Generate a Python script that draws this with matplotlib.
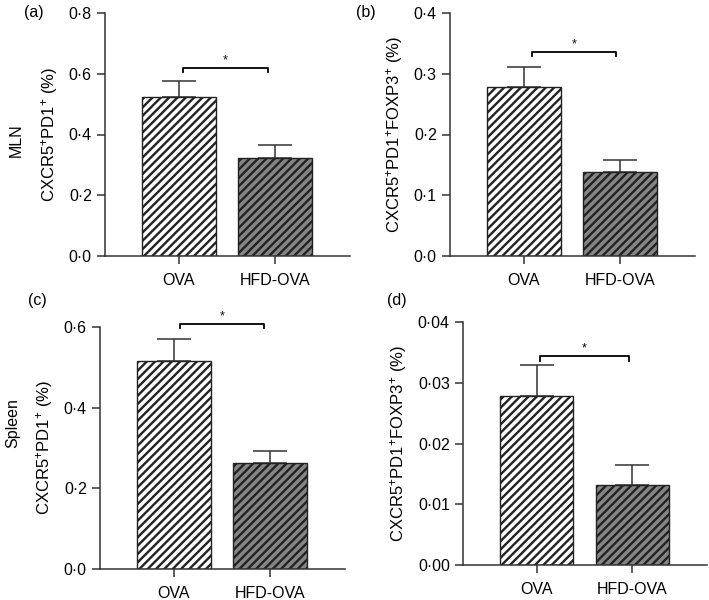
import matplotlib
matplotlib.use("Agg")
import matplotlib.pyplot as plt

plt.rcParams['font.family'] = ['Liberation Sans', 'DejaVu Sans']
plt.rcParams['mathtext.fontset'] = 'custom'
plt.rcParams['mathtext.rm'] = 'Liberation Sans'
plt.rcParams['mathtext.default'] = 'regular'
plt.rcParams['hatch.linewidth'] = 1.7
plt.rcParams['hatch.color'] = 'black'

categories = ["OVA", "HFD-OVA"]

# panel values (mean, upper error)
a_vals = [0.523, 0.323]
a_err = [0.054, 0.043]
b_vals = [0.278, 0.138]
b_err = [0.033, 0.020]
c_vals = [0.516, 0.263]
c_err = [0.054, 0.030]
d_vals = [0.0279, 0.0132]
d_err = [0.0050, 0.0033]

a_ticks = [0.0, 0.2, 0.4, 0.6, 0.8]
b_ticks = [0.0, 0.1, 0.2, 0.3, 0.4]
c_ticks = [0.0, 0.2, 0.4, 0.6]
d_ticks = [0.0, 0.01, 0.02, 0.03, 0.04]

a_tlabels = ["0·0", "0·2", "0·4", "0·6", "0·8"]
b_tlabels = ["0·0", "0·1", "0·2", "0·3", "0·4"]
c_tlabels = ["0·0", "0·2", "0·4", "0·6"]
d_tlabels = ["0·00", "0·01", "0·02", "0·03", "0·04"]

ylab1 = "CXCR5$^{+}$PD1$^{+}$ (%)"
ylab2 = "CXCR5$^{+}$PD1$^{+}$FOXP3$^{+}$ (%)"

# significance brackets: (x0, x1, y, drop)
a_br = (0.04, 0.93, 0.619, 0.013)
b_br = (0.08, 0.96, 0.336, 0.007)
c_br = (0.06, 0.94, 0.607, 0.009)
d_br = (0.03, 0.97, 0.0344, 0.0008)

fig = plt.figure(figsize=(7.09, 6.0), dpi=100)

W, H = 709, 600
def pos(l, r, t, b):
    return [l / W, 1 - b / H, (r - l) / W, (b - t) / H]

panels = [
    (pos(105, 350, 13, 256), a_vals, a_err, a_ticks, a_tlabels, ylab1, a_br, 0.8),
    (pos(450, 695, 13, 256), b_vals, b_err, b_ticks, b_tlabels, ylab2, b_br, 0.4),
    (pos(100, 345, 327, 569), c_vals, c_err, c_ticks, c_tlabels, ylab1, c_br, 0.6),
    (pos(463, 707, 322, 565), d_vals, d_err, d_ticks, d_tlabels, ylab2, d_br, 0.04),
]

fills = ["white", "#858585"]
axes = []
for rect, vals, err, ticks, tl, ylab, br, ymax in panels:
    ax = fig.add_axes(rect)
    axes.append(ax)
    x = [0, 1]
    ax.bar(x, vals, width=0.765, color=fills, edgecolor="#222222",
           linewidth=1.0, hatch="////", zorder=2)
    ax.errorbar(x, vals, yerr=[[0, 0], err], fmt="none", ecolor="#333333",
                elinewidth=1.1, capsize=12, capthick=1.1, zorder=1)
    ax.set_xlim(-0.77, 1.78)
    ax.set_ylim(0, ymax)
    ax.set_yticks(ticks)
    ax.set_yticklabels(tl)
    ax.set_xticks(x)
    ax.set_xticklabels(categories)
    ax.tick_params(axis='both', direction='out', length=6, width=1.1,
                   labelsize=11.5, color="#333333")
    ax.tick_params(axis='x', pad=6)
    for s in ["top", "right"]:
        ax.spines[s].set_visible(False)
    for s in ["left", "bottom"]:
        ax.spines[s].set_linewidth(1.1)
        ax.spines[s].set_color("#333333")
    ax.set_ylabel(ylab, fontsize=12, labelpad=6)
    x0, x1, y, d = br
    ax.plot([x0, x0, x1, x1], [y - d, y, y, y - d], color="black", lw=1.3,
            clip_on=False)
    ax.text((x0 + x1) / 2, y + d * 0.4, "*", ha="center", va="bottom",
            fontsize=9)

fig.text(34 / W, 1 - 13 / H, "(a)", ha="center", va="center", fontsize=11.5)
fig.text(366 / W, 1 - 13 / H, "(b)", ha="center", va="center", fontsize=11.5)
fig.text(37 / W, 1 - 301 / H, "(c)", ha="center", va="center", fontsize=11.5)
fig.text(397 / W, 1 - 301 / H, "(d)", ha="center", va="center", fontsize=11.5)
fig.text(16 / W, 1 - 140 / H, "MLN", rotation=90, ha="center", va="center",
         fontsize=11.5)
fig.text(13 / W, 1 - 423 / H, "Spleen", rotation=90, ha="center",
         va="center", fontsize=11.5)

fig.savefig("out.png", dpi=100)
